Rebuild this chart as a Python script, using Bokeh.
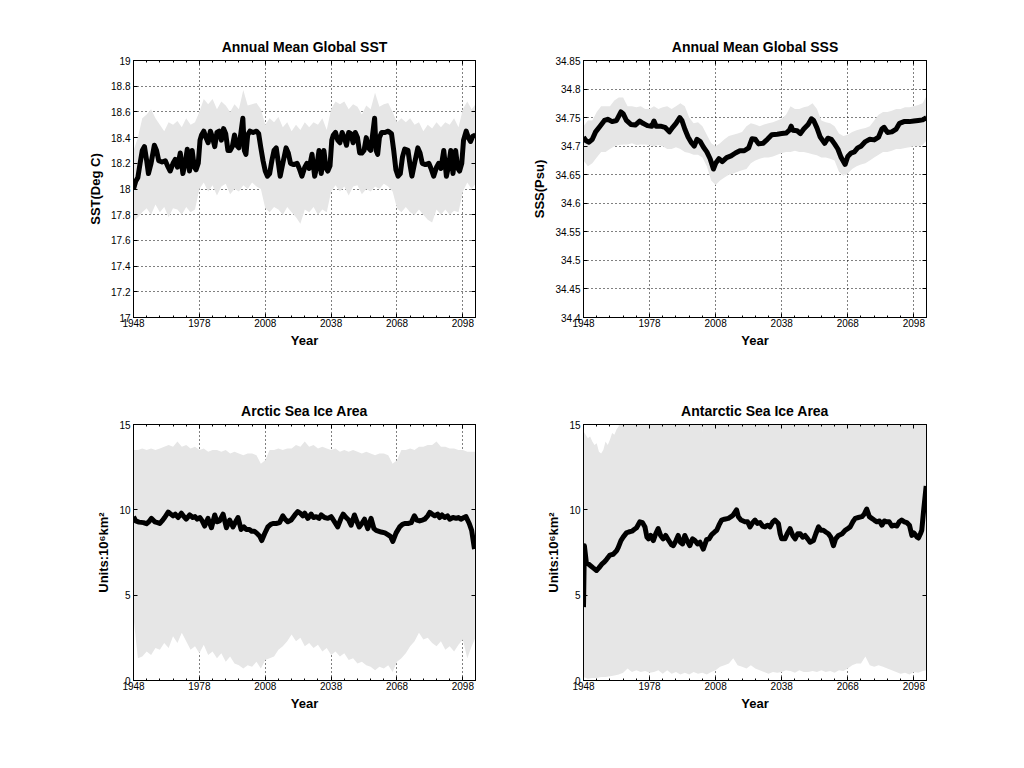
from bokeh.plotting import figure
from bokeh.models import Range1d, FixedTicker, LinearAxis, CustomJSTickFormatter
from bokeh.layouts import column, row
from bokeh.embed import file_html
from bokeh.resources import INLINE

FONT = "Liberation Sans"
GRAY = "#e6e6e6"

# ---------------- shared x axis ----------------
X_START, X_END = 1948, 2103.75
X_MAJOR = [1948, 1978, 2008, 2038, 2068, 2098]
X_MINOR = [1954, 1960, 1966, 1972, 1984, 1990, 1996, 2002, 2014, 2020, 2026,
           2032, 2044, 2050, 2056, 2062, 2074, 2080, 2086, 2092]

ENV_YEARS = [1948, 1950, 1952, 1954, 1956, 1958, 1960, 1962, 1964, 1966, 1968, 1970,
             1972, 1974, 1976, 1978, 1980, 1982, 1984, 1986, 1988, 1990, 1992, 1994,
             1996, 1998, 2000, 2002, 2004, 2006, 2008, 2010, 2012, 2014, 2016, 2018,
             2020, 2022, 2024, 2026, 2028, 2030, 2032, 2034, 2036, 2038, 2040, 2042,
             2044, 2046, 2048, 2050, 2052, 2054, 2056, 2058, 2060, 2062, 2064, 2066,
             2068, 2070, 2072, 2074, 2076, 2078, 2080, 2082, 2084, 2086, 2088, 2090,
             2092, 2094, 2096, 2098, 2100, 2102, 2103.75]

# ---------------- SST ----------------
SST_TICKS = [17, 17.2, 17.4, 17.6, 17.8, 18, 18.2, 18.4, 18.6, 18.8, 19]
SST_HI = [18.30, 18.40, 18.55, 18.58, 18.62, 18.55, 18.50, 18.45, 18.52, 18.50, 18.53, 18.48,
          18.55, 18.50, 18.52, 18.60, 18.70, 18.66, 18.70, 18.62, 18.68, 18.65, 18.60, 18.66,
          18.62, 18.77, 18.65, 18.66, 18.67, 18.62, 18.50, 18.55, 18.52, 18.56, 18.48, 18.52,
          18.45, 18.50, 18.46, 18.52, 18.48, 18.52, 18.50, 18.55, 18.46, 18.62, 18.68, 18.66,
          18.68, 18.62, 18.66, 18.64, 18.58, 18.65, 18.62, 18.75, 18.64, 18.66, 18.67, 18.60,
          18.52, 18.55, 18.52, 18.55, 18.50, 18.52, 18.45, 18.50, 18.47, 18.52, 18.48, 18.52,
          18.50, 18.55, 18.48, 18.62, 18.68, 18.62, 18.66]
SST_LO = [17.75, 17.78, 17.82, 17.85, 17.80, 17.88, 17.82, 17.86, 17.78, 17.85, 17.84, 17.80,
          17.86, 17.82, 17.84, 18.00, 18.05, 17.98, 18.03, 17.95, 18.02, 18.04, 17.96, 18.00,
          17.98, 18.03, 18.00, 18.05, 18.02, 18.00, 17.85, 17.82, 17.86, 17.84, 17.80, 17.86,
          17.82, 17.78, 17.73, 17.84, 17.82, 17.86, 17.80, 17.84, 17.82, 17.98, 18.03, 17.98,
          18.02, 17.95, 18.02, 18.03, 17.96, 18.00, 17.98, 18.02, 18.00, 18.04, 18.02, 17.98,
          17.85, 17.82, 17.86, 17.82, 17.80, 17.84, 17.80, 17.76, 17.74, 17.84, 17.80, 17.84,
          17.80, 17.83, 17.82, 17.98, 18.05, 18.00, 18.04]
SST_YEAR = [1948.0, 1949.0, 1950.0, 1951.0, 1952.0, 1953.0, 1954.0, 1954.8, 1956.0, 1957.5,
            1958.5, 1959.5, 1961.0, 1962.5, 1963.5, 1964.7, 1966.0, 1967.0, 1968.0, 1969.3,
            1970.5, 1971.5, 1972.5, 1973.5, 1974.7, 1975.7, 1976.5, 1977.5, 1978.3, 1979.0,
            1980.0, 1981.0, 1982.0, 1983.0, 1984.0, 1985.0, 1986.0, 1987.0, 1988.0, 1989.0,
            1990.0, 1991.0, 1992.0, 1993.0, 1994.0, 1995.0, 1996.0, 1997.8, 1998.5, 1999.2,
            2000.0, 2001.0, 2002.5, 2004.0, 2005.0, 2006.0, 2007.0, 2008.0, 2009.0, 2010.0,
            2011.0, 2012.0, 2013.0, 2014.0, 2014.8, 2016.0, 2017.5, 2018.5, 2019.5, 2021.0,
            2022.5, 2023.5, 2024.7, 2026.0, 2027.0, 2028.0, 2029.3, 2030.5, 2031.5, 2032.5,
            2033.5, 2034.7, 2035.7, 2036.5, 2037.5, 2038.3, 2039.0, 2040.0, 2041.0, 2042.0,
            2043.0, 2044.0, 2045.0, 2046.0, 2047.0, 2048.0, 2049.0, 2050.0, 2051.0, 2052.0,
            2053.0, 2054.0, 2055.0, 2056.0, 2057.8, 2058.5, 2059.2, 2060.0, 2061.0, 2062.5,
            2064.0, 2065.5, 2066.5, 2067.5, 2068.5, 2069.5, 2070.5, 2071.5, 2073.0, 2074.0,
            2074.8, 2076.0, 2077.5, 2078.5, 2079.5, 2081.0, 2082.5, 2083.5, 2084.7, 2086.0,
            2087.0, 2088.0, 2089.3, 2090.5, 2091.5, 2092.5, 2093.5, 2094.7, 2095.7, 2096.5,
            2097.5, 2098.3, 2099.5, 2100.5, 2101.5, 2102.5, 2103.75]
SST_MEAN = [18.00, 18.06, 18.09, 18.20, 18.30, 18.33, 18.22, 18.12, 18.20, 18.34,
            18.30, 18.22, 18.21, 18.22, 18.18, 18.14, 18.20, 18.23, 18.17, 18.28,
            18.12, 18.20, 18.31, 18.14, 18.30, 18.17, 18.15, 18.20, 18.38, 18.42,
            18.45, 18.40, 18.36, 18.45, 18.40, 18.33, 18.44, 18.45, 18.38, 18.47,
            18.43, 18.30, 18.30, 18.33, 18.42, 18.34, 18.32, 18.55, 18.30, 18.27,
            18.42, 18.45, 18.44, 18.45, 18.43, 18.32, 18.22, 18.14, 18.10, 18.12,
            18.22, 18.30, 18.32, 18.20, 18.10, 18.20, 18.32, 18.28, 18.20, 18.19,
            18.20, 18.16, 18.10, 18.17, 18.20, 18.16, 18.27, 18.10, 18.18, 18.30,
            18.12, 18.30, 18.16, 18.14, 18.18, 18.38, 18.42, 18.44, 18.38, 18.36,
            18.44, 18.40, 18.34, 18.44, 18.43, 18.36, 18.44, 18.40, 18.28, 18.28,
            18.30, 18.40, 18.32, 18.30, 18.55, 18.30, 18.27, 18.40, 18.44, 18.44,
            18.45, 18.43, 18.30, 18.15, 18.10, 18.12, 18.25, 18.31, 18.30, 18.18,
            18.10, 18.20, 18.32, 18.28, 18.20, 18.19, 18.20, 18.16, 18.10, 18.17,
            18.20, 18.16, 18.30, 18.10, 18.18, 18.30, 18.12, 18.30, 18.16, 18.14,
            18.20, 18.38, 18.45, 18.40, 18.37, 18.41, 18.42]

# ---------------- SSS ----------------
SSS_TICKS = [34.4, 34.45, 34.5, 34.55, 34.6, 34.65, 34.7, 34.75, 34.8, 34.85]
SSS_HI = [34.735, 34.745, 34.745, 34.760, 34.770, 34.770, 34.770, 34.780, 34.785, 34.785,
          34.770, 34.770, 34.768, 34.770, 34.765, 34.765, 34.770, 34.765, 34.768, 34.770,
          34.765, 34.770, 34.775, 34.770, 34.750, 34.740, 34.742, 34.735, 34.720, 34.705,
          34.700, 34.705, 34.712, 34.718, 34.720, 34.722, 34.725, 34.735, 34.740, 34.738,
          34.735, 34.738, 34.740, 34.742, 34.745, 34.748, 34.755, 34.770, 34.765, 34.765,
          34.768, 34.770, 34.775, 34.765, 34.745, 34.742, 34.740, 34.735, 34.722, 34.718,
          34.720, 34.725, 34.728, 34.730, 34.732, 34.735, 34.745, 34.755, 34.760, 34.760,
          34.762, 34.765, 34.765, 34.768, 34.768, 34.770, 34.772, 34.775, 34.788]
SSS_LO = [34.675, 34.665, 34.670, 34.680, 34.690, 34.690, 34.695, 34.700, 34.702, 34.703,
          34.703, 34.705, 34.702, 34.703, 34.703, 34.702, 34.700, 34.702, 34.700, 34.695,
          34.695, 34.698, 34.695, 34.690, 34.688, 34.685, 34.685, 34.680, 34.665, 34.640,
          34.632, 34.640, 34.645, 34.650, 34.652, 34.655, 34.658, 34.660, 34.670, 34.675,
          34.678, 34.680, 34.680, 34.682, 34.685, 34.688, 34.690, 34.690, 34.692, 34.690,
          34.690, 34.688, 34.686, 34.684, 34.680, 34.680, 34.678, 34.675, 34.655, 34.648,
          34.652, 34.660, 34.665, 34.668, 34.670, 34.675, 34.680, 34.685, 34.690, 34.690,
          34.692, 34.695, 34.695, 34.697, 34.698, 34.700, 34.700, 34.702, 34.710]
SSS_YEAR = [1948.0, 1949.0, 1950.5, 1952.0, 1953.5, 1955.5, 1957.5, 1959.0, 1961.0, 1963.0,
            1965.0, 1966.0, 1967.5, 1969.5, 1971.5, 1973.5, 1975.0, 1977.0, 1979.0, 1980.0,
            1981.0, 1983.0, 1985.0, 1987.0, 1988.5, 1990.0, 1991.7, 1992.7, 1994.0, 1995.5,
            1997.0, 1998.3, 1999.5, 2001.0, 2002.5, 2004.0, 2005.5, 2007.0, 2008.0, 2009.5,
            2011.0, 2013.0, 2015.0, 2017.0, 2019.0, 2021.0, 2023.0, 2024.5, 2026.0, 2027.5,
            2029.5, 2031.5, 2033.5, 2036.0, 2038.0, 2040.0, 2041.5, 2042.3, 2043.0, 2045.0,
            2046.5, 2048.0, 2050.0, 2051.5, 2052.5, 2054.0, 2055.5, 2057.5, 2059.0, 2060.5,
            2062.0, 2063.5, 2065.0, 2066.8, 2068.0, 2069.5, 2071.0, 2072.5, 2074.0, 2076.0,
            2078.0, 2080.0, 2082.0, 2083.5, 2084.5, 2086.0, 2088.0, 2090.0, 2091.5, 2093.5,
            2096.0, 2098.0, 2100.0, 2102.0, 2103.75]
SSS_MEAN = [34.716, 34.710, 34.707, 34.712, 34.725, 34.735, 34.745, 34.747, 34.743, 34.745,
            34.760, 34.757, 34.745, 34.738, 34.737, 34.744, 34.740, 34.736, 34.735, 34.744,
            34.735, 34.735, 34.733, 34.725, 34.733, 34.740, 34.750, 34.745, 34.730, 34.716,
            34.706, 34.700, 34.712, 34.708, 34.698, 34.690, 34.678, 34.660, 34.670, 34.678,
            34.673, 34.680, 34.683, 34.688, 34.692, 34.692, 34.697, 34.713, 34.712, 34.704,
            34.705, 34.712, 34.720, 34.721, 34.722, 34.723, 34.728, 34.735, 34.728, 34.727,
            34.722, 34.730, 34.738, 34.748, 34.745, 34.732, 34.716, 34.705, 34.714, 34.712,
            34.704, 34.695, 34.680, 34.668, 34.682, 34.688, 34.690, 34.697, 34.700, 34.708,
            34.712, 34.711, 34.716, 34.730, 34.733, 34.724, 34.725, 34.730, 34.740, 34.743,
            34.743, 34.744, 34.745, 34.746, 34.750]

# ---------------- Arctic sea ice ----------------
ICE_TICKS = [0, 5, 10, 15]
ARC_HI = [13.5, 13.5, 13.6, 13.5, 13.6, 13.5, 13.6, 13.7, 13.8, 13.7, 14.0, 13.7,
          13.8, 13.6, 13.7, 13.5, 13.6, 13.4, 13.5, 13.5, 13.4, 13.5, 13.3, 13.4,
          13.3, 13.2, 13.3, 13.3, 13.2, 12.7, 12.9, 13.5, 13.5, 13.6, 13.5, 13.6,
          13.6, 13.8, 13.7, 14.0, 13.7, 13.8, 13.6, 13.7, 13.6, 13.5, 13.6, 13.4,
          13.5, 13.4, 13.5, 13.4, 13.3, 13.4, 13.3, 13.2, 13.3, 13.3, 13.2, 12.7,
          12.9, 13.5, 13.5, 13.6, 13.5, 13.7, 13.7, 13.8, 13.8, 14.0, 13.7, 13.7,
          13.6, 13.6, 13.5, 13.5, 13.4, 13.4, 13.4]
ARC_LO = [3.7, 1.3, 1.4, 1.7, 1.5, 1.9, 1.8, 2.2, 1.9, 2.6, 2.2, 2.8,
          2.3, 1.8, 2.0, 1.6, 2.1, 1.5, 1.7, 1.3, 1.6, 1.1, 1.4, 1.0,
          0.9, 0.7, 0.9, 0.8, 1.1, 0.7, 1.2, 1.3, 1.4, 1.8, 2.0, 2.3,
          2.7, 2.3, 2.5, 2.0, 2.2, 1.9, 2.1, 1.7, 1.9, 1.5, 1.7, 1.4,
          1.6, 1.2, 1.3, 1.0, 1.1, 0.9, 0.8, 0.6, 0.8, 0.7, 0.9, 0.5,
          1.1, 1.3, 1.6, 2.0, 2.3, 2.8, 2.4, 2.5, 2.2, 2.0, 2.3, 1.8,
          2.0, 1.7, 2.1, 2.4, 1.3, 2.0, 2.5]
ARC_YEAR = [1948.0, 1949.0, 1950.5, 1952.5, 1953.9, 1955.0, 1956.2, 1957.7, 1959.0, 1960.0,
            1961.0, 1962.2, 1963.8, 1965.0, 1966.0, 1967.0, 1968.3, 1969.8, 1971.0, 1972.0,
            1973.6, 1975.0, 1976.0, 1977.0, 1978.2, 1979.3, 1980.4, 1981.9, 1983.5, 1985.0,
            1986.0, 1987.2, 1988.8, 1990.3, 1991.8, 1993.3, 1994.5, 1995.6, 1997.0, 1998.3,
            1999.4, 2000.8, 2001.8, 2003.0, 2004.0, 2005.5, 2006.4, 2007.7, 2009.2, 2010.5,
            2011.5, 2013.0, 2014.5, 2016.0, 2017.0, 2018.3, 2019.8, 2021.5, 2022.8, 2024.0,
            2025.1, 2026.0, 2027.4, 2028.9, 2030.0, 2031.2, 2032.5, 2033.5, 2035.0, 2036.5,
            2038.0, 2038.8, 2041.0, 2042.5, 2043.5, 2044.8, 2046.0, 2047.1, 2048.6, 2049.8,
            2050.8, 2052.0, 2053.2, 2054.7, 2056.2, 2057.5, 2058.5, 2060.8, 2062.5, 2063.8,
            2065.0, 2066.1, 2067.6, 2069.2, 2070.5, 2071.5, 2073.0, 2074.5, 2075.9, 2077.0,
            2078.3, 2079.5, 2080.6, 2082.0, 2082.9, 2084.0, 2085.2, 2086.5, 2087.4, 2088.5,
            2089.7, 2091.0, 2092.0, 2093.5, 2095.0, 2096.0, 2097.1, 2098.5, 2099.4, 2100.9,
            2102.0, 2103.3]
ARC_MEAN = [9.60, 9.35, 9.28, 9.25, 9.19, 9.30, 9.50, 9.30, 9.25, 9.20,
            9.35, 9.55, 9.87, 9.75, 9.65, 9.75, 9.55, 9.80, 9.60, 9.45,
            9.70, 9.55, 9.60, 9.45, 9.55, 9.35, 9.05, 9.50, 8.95, 9.70,
            9.30, 9.35, 9.75, 8.95, 9.40, 9.00, 9.30, 9.55, 8.85, 9.00,
            8.85, 8.85, 8.75, 8.75, 8.65, 8.45, 8.20, 8.60, 9.00, 9.15,
            9.20, 9.20, 9.25, 9.65, 9.45, 9.30, 9.40, 9.70, 9.90, 9.80,
            9.65, 9.80, 9.50, 9.75, 9.55, 9.60, 9.50, 9.70, 9.55, 9.50,
            9.60, 9.45, 9.00, 9.50, 9.75, 9.55, 9.40, 9.10, 9.70, 9.30,
            9.00, 9.20, 9.45, 8.90, 9.50, 8.90, 8.80, 8.70, 8.65, 8.55,
            8.45, 8.15, 8.65, 9.00, 9.15, 9.20, 9.20, 9.25, 9.65, 9.40,
            9.35, 9.40, 9.45, 9.65, 9.85, 9.75, 9.65, 9.75, 9.55, 9.70,
            9.55, 9.65, 9.45, 9.55, 9.50, 9.55, 9.45, 9.55, 9.60, 9.20,
            8.80, 7.70]

# ---------------- Antarctic sea ice ----------------
ANT_HI_YEAR = [1948.0, 1949.0, 1950.0, 1951.0, 1952.0, 1953.0, 1954.0, 1955.0, 1956.0,
               1957.0, 1958.0, 1959.0, 1960.0, 1961.0, 1962.0, 1963.0, 1964.0, 1964.6,
               2001.9, 2002.2, 2002.5, 2103.75]
ANT_HI = [14.6, 14.4, 14.2, 14.3, 14.0, 13.8, 13.9, 13.4, 13.3,
          13.5, 14.0, 13.8, 14.1, 14.5, 14.4, 14.7, 14.9, 16.0,
          16.0, 14.5, 16.0, 16.0]
ANT_LO = [0.20, 0.10, 0.15, 0.15, 0.20, 0.20, 0.25, 0.30, 0.35, 0.45, 0.70, 0.50,
          0.60, 0.50, 0.55, 0.45, 0.50, 0.60, 0.40, 0.60, 0.40, 0.50, 0.35, 0.45,
          0.35, 0.50, 0.40, 0.45, 0.35, 0.50, 0.60, 0.80, 0.90, 1.00, 1.30, 0.90,
          0.80, 0.70, 0.90, 0.70, 0.60, 0.50, 0.40, 0.50, 0.45, 0.50, 0.60, 0.55,
          0.45, 0.60, 0.50, 0.50, 0.55, 0.50, 0.60, 0.50, 0.55, 0.45, 0.60, 0.55,
          0.70, 0.90, 1.00, 1.00, 1.40, 0.90, 0.80, 0.90, 0.80, 0.70, 0.60, 0.50,
          0.40, 0.45, 0.35, 0.50, 0.45, 0.55, 0.60]
ANT_YEAR = [1948.0, 1948.4, 1949.3, 1950.5, 1952.4, 1953.9, 1955.0, 1956.2, 1957.5, 1958.5,
            1960.0, 1961.5, 1963.0, 1963.8, 1965.0, 1966.0, 1967.5, 1968.5, 1970.0, 1971.0,
            1972.1, 1973.6, 1974.8, 1975.9, 1976.8, 1977.5, 1978.5, 1979.7, 1980.8, 1981.9,
            1983.0, 1984.2, 1985.3, 1986.5, 1988.0, 1988.8, 1990.0, 1991.0, 1992.0, 1993.0,
            1994.0, 1995.0, 1996.3, 1997.5, 1998.6, 1999.8, 2000.9, 2002.4, 2003.9, 2005.0,
            2006.2, 2007.5, 2008.5, 2009.5, 2010.7, 2012.0, 2013.8, 2015.0, 2016.0, 2017.5,
            2018.3, 2019.5, 2021.3, 2022.5, 2023.6, 2024.8, 2025.9, 2027.0, 2028.2, 2029.3,
            2030.4, 2031.5, 2032.7, 2034.0, 2034.9, 2036.5, 2037.3, 2038.0, 2039.5, 2040.5,
            2041.8, 2043.0, 2044.1, 2045.3, 2046.4, 2047.5, 2048.6, 2049.8, 2050.9, 2052.4,
            2053.5, 2054.7, 2055.8, 2056.9, 2058.0, 2059.2, 2060.3, 2061.5, 2062.5, 2063.8,
            2065.5, 2066.8, 2068.0, 2069.1, 2070.3, 2071.4, 2072.8, 2074.4, 2075.5, 2076.6,
            2077.8, 2078.9, 2080.0, 2081.2, 2082.4, 2083.5, 2084.6, 2085.7, 2086.8, 2088.0,
            2089.2, 2090.3, 2091.4, 2092.5, 2093.7, 2094.8, 2096.0, 2097.1, 2098.0, 2098.6,
            2099.5, 2100.1, 2101.0, 2101.6, 2102.4, 2103.6]
ANT_MEAN = [4.3, 7.9, 6.9, 6.8, 6.6, 6.45, 6.6, 6.8, 6.95, 7.1,
            7.35, 7.4, 7.6, 7.8, 8.2, 8.4, 8.65, 8.7, 8.75, 8.85,
            8.95, 9.3, 9.25, 9.0, 8.4, 8.3, 8.5, 8.2, 8.6, 8.9,
            8.5, 8.3, 8.5, 8.25, 7.95, 7.9, 8.2, 8.5, 8.1, 8.0,
            8.5, 8.2, 7.9, 8.3, 8.2, 8.0, 8.1, 7.7, 8.25, 8.3,
            8.55, 8.7, 8.8, 9.1, 9.4, 9.45, 9.5, 9.6, 9.7, 10.0,
            9.6, 9.4, 9.3, 9.3, 9.0, 9.25, 9.4, 9.2, 9.25, 9.05,
            9.0, 9.1, 9.0, 9.3, 9.4, 9.2, 8.6, 8.3, 8.3, 8.6,
            8.9, 8.5, 8.3, 8.6, 8.6, 8.4, 8.5, 8.3, 8.1, 8.2,
            8.6, 9.0, 8.8, 8.8, 8.7, 8.6, 8.4, 7.9, 8.3, 8.5,
            8.6, 8.8, 8.9, 9.0, 9.3, 9.5, 9.55, 9.6, 9.75, 10.05,
            9.6, 9.5, 9.4, 9.3, 9.35, 9.1, 9.35, 9.3, 9.3, 9.05,
            9.1, 9.05, 9.3, 9.4, 9.3, 9.25, 9.1, 8.5, 8.65, 8.55,
            8.4, 8.35, 8.6, 8.8, 9.9, 11.4]

FMT = CustomJSTickFormatter(code="return (Math.round(tick * 1000) / 1000).toString();")


def style_axis(ax, ticker, show_labels, minor):
    ax.ticker = ticker
    ax.axis_line_color = "black"
    ax.axis_line_width = 1
    ax.major_tick_line_color = "black"
    ax.major_tick_in = 4
    ax.major_tick_out = 0
    ax.minor_tick_line_color = "black" if minor else None
    ax.minor_tick_in = 2
    ax.minor_tick_out = 0
    ax.major_label_text_font = FONT
    ax.major_label_text_color = "black"
    if show_labels:
        ax.major_label_text_font_size = "10px"
        ax.formatter = FMT
    else:
        ax.major_label_text_font_size = "0px"
        ax.major_label_standoff = 0


def band(xs_hi, hi, xs_lo, lo):
    return list(xs_hi) + list(xs_lo)[::-1], list(hi) + list(lo)[::-1]


def panel(title, ylabel, yticks, yrange, band_x, band_y, mean_x, mean_y,
          width, height, left, right, top, bottom):
    p = figure(width=width, height=height, x_range=Range1d(X_START, X_END),
               y_range=Range1d(*yrange), output_backend="svg", toolbar_location=None,
               tools="", min_border_left=left, min_border_right=right,
               min_border_top=top, min_border_bottom=bottom)
    p.background_fill_color = "white"
    p.border_fill_color = "white"
    p.outline_line_color = "black"

    xt = FixedTicker(ticks=X_MAJOR, minor_ticks=X_MINOR)
    yt = FixedTicker(ticks=yticks)

    p.patch(band_x, band_y, fill_color=GRAY, line_color=None)
    p.line(mean_x, mean_y, line_color="black", line_width=5, line_join="round")

    xa = p.xaxis[0]
    ya = p.yaxis[0]
    style_axis(xa, xt, True, True)
    style_axis(ya, yt, True, False)
    xa.major_label_standoff = 1
    ya.major_label_standoff = 3
    xa.axis_label = "Year"
    ya.axis_label = ylabel
    for a in (xa, ya):
        a.axis_label_text_font = FONT
        a.axis_label_text_font_style = "bold"
        a.axis_label_text_font_size = "13px"
        a.axis_label_text_color = "black"
    xa.axis_label_standoff = 3
    ya.axis_label_standoff = 5

    ra = LinearAxis()
    style_axis(ra, yt, False, False)
    ta = LinearAxis()
    style_axis(ta, xt, False, True)
    p.add_layout(ra, "right")
    p.add_layout(ta, "above")

    for g, t in ((p.xgrid[0], xt), (p.ygrid[0], yt)):
        g.ticker = t
        g.grid_line_color = "black"
        g.grid_line_width = 1
        g.grid_line_dash = "1 3"
        g.grid_line_alpha = 1.0

    p.title.text = title
    p.title.align = "center"
    p.title.text_font = FONT
    p.title.text_font_size = "14px"
    p.title.text_font_style = "bold"
    p.title.text_color = "black"
    p.title.standoff = 12
    return p


bx, by = band(ENV_YEARS, SST_HI, ENV_YEARS, SST_LO)
p1 = panel("Annual Mean Global SST", "SST(Deg C)", SST_TICKS, (17, 19), bx, by,
           SST_YEAR, SST_MEAN, 520, 370, 133, 45, 60, 53)
bx, by = band(ENV_YEARS, SSS_HI, ENV_YEARS, SSS_LO)
p2 = panel("Annual Mean Global SSS", "SSS(Psu)", SSS_TICKS, (34.4, 34.85), bx, by,
           SSS_YEAR, SSS_MEAN, 496, 370, 63, 90, 60, 53)
bx, by = band(ENV_YEARS, ARC_HI, ENV_YEARS, ARC_LO)
p3 = panel("Arctic Sea Ice Area", "Units:10\u2076km\u00b2", ICE_TICKS, (0, 15), bx, by,
           ARC_YEAR, ARC_MEAN, 520, 390, 133, 45, 54, 80)
bx, by = band(ANT_HI_YEAR, ANT_HI, ENV_YEARS, ANT_LO)
p4 = panel("Antarctic Sea Ice Area", "Units:10\u2076km\u00b2", ICE_TICKS, (0, 15), bx, by,
           ANT_YEAR, ANT_MEAN, 496, 390, 63, 90, 54, 80)

layout = column(row(p1, p2), row(p3, p4))
open("out.html", "w").write(file_html(layout, INLINE))
